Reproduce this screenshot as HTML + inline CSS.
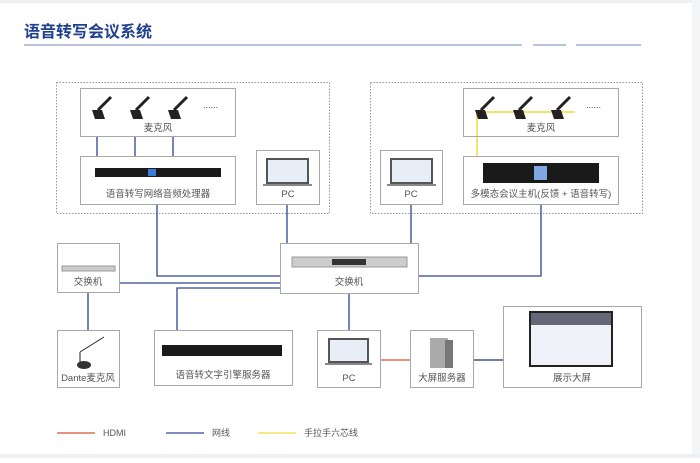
<!DOCTYPE html>
<html><head><meta charset="utf-8"><style>
body{margin:0;background:#fff;}
svg text{font-family:"Liberation Sans","Noto Sans CJK SC",sans-serif;}
</style></head><body>
<svg width="700" height="458" xmlns="http://www.w3.org/2000/svg">
<rect width="700" height="458" fill="#fff"/>
<rect x="0" y="0" width="700" height="3" fill="#eef0f3"/>
<rect x="692" y="0" width="8" height="458" fill="#f4f5f7"/>
<rect x="0" y="454" width="700" height="4" fill="#eef0f3"/>
<text x="24" y="37" font-size="16" font-weight="bold" fill="#1f3f8f">语音转写会议系统</text>
<g stroke="#8fa0c8" stroke-width="1.2"><line x1="24" y1="45" x2="522" y2="45"/><line x1="533" y1="45" x2="566" y2="45"/><line x1="576" y1="45" x2="641" y2="45"/></g>
<g fill="none" stroke="#999" stroke-dasharray="1.5,1.5"><rect x="56.5" y="82.5" width="273" height="131"/><rect x="370.5" y="82.5" width="272" height="131"/></g>
<g fill="none" stroke="#2d4495" stroke-width="1.3">
<line x1="97" y1="136" x2="97" y2="156"/><line x1="135" y1="136" x2="135" y2="156"/><line x1="173" y1="136" x2="173" y2="156"/>
<polyline points="157,204 157,276 280,276"/>
<line x1="287" y1="204" x2="287" y2="243"/>
<line x1="411" y1="204" x2="411" y2="243"/>
<polyline points="541,204 541,276 419,276"/>
<line x1="120" y1="283" x2="280" y2="283"/>
<polyline points="177,330 177,288 280,288"/>
<line x1="349" y1="293" x2="349" y2="330"/>
<line x1="88" y1="292" x2="88" y2="330"/>
<line x1="473" y1="360" x2="503" y2="360" stroke="#1f2f60"/>
</g>
<line x1="380" y1="360" x2="410" y2="360" stroke="#d9503a" stroke-width="1.3"/>
<line x1="477" y1="136" x2="477" y2="156" stroke="#f2dc3c" stroke-width="1.5"/>
<g fill="#fff" stroke="#a8a8a8" stroke-width="1">
<rect x="80.5" y="88.5" width="155" height="48"/>
<rect x="80.5" y="156.5" width="155" height="48"/>
<rect x="256.5" y="150.5" width="63" height="54"/>
<rect x="380.5" y="150.5" width="62" height="54"/>
<rect x="463.5" y="88.5" width="155" height="48"/>
<rect x="463.5" y="156.5" width="155" height="48"/>
<rect x="280.5" y="243.5" width="138" height="50"/>
<rect x="57.5" y="243.5" width="62" height="49"/>
<rect x="57.5" y="330.5" width="62" height="57"/>
<rect x="154.5" y="330.5" width="138" height="55"/>
<rect x="317.5" y="330.5" width="63" height="57"/>
<rect x="410.5" y="330.5" width="63" height="57"/>
<rect x="503.5" y="306.5" width="138" height="81"/>
</g>
<g stroke="#f2dc3c" stroke-width="1.5" fill="none"><polyline points="477,136 477,112 575,112"/></g>
<g fill="#222">
<g id="m"><polygon points="92,110 102,110 105,119 95,119"/><line x1="98" y1="110" x2="111" y2="97" stroke="#222" stroke-width="3"/></g>
<use href="#m" x="38"/><use href="#m" x="76"/>
<use href="#m" x="383"/><use href="#m" x="421"/><use href="#m" x="459"/>
</g>
<text x="203" y="108" font-size="9" fill="#444">......</text>
<text x="586" y="108" font-size="9" fill="#444">......</text>
<g font-size="9.5" fill="#555" text-anchor="middle">
<text x="158" y="131">麦克风</text>
<text x="541" y="131">麦克风</text>
<text x="158" y="197">语音转写网络音频处理器</text>
<text x="288" y="197">PC</text>
<text x="411" y="197">PC</text>
<text x="541" y="197">多模态会议主机(反馈 + 语音转写)</text>
<text x="349" y="285">交换机</text>
<text x="88" y="285">交换机</text>
<text x="88" y="381">Dante麦克风</text>
<text x="223" y="378">语音转文字引擎服务器</text>
<text x="349" y="381">PC</text>
<text x="442" y="381">大屏服务器</text>
<text x="572" y="381">展示大屏</text>
</g>
<rect x="95" y="168" width="126" height="9" fill="#1a1a1a"/><rect x="148" y="169" width="8" height="7" fill="#3a7bd5"/>
<rect x="483" y="163" width="116" height="20" fill="#1a1a1a"/><rect x="534" y="166" width="13" height="14" fill="#7fa8e0"/>
<g><rect x="266" y="158" width="43" height="26" fill="#555"/><rect x="268" y="160" width="39" height="22" fill="#e8eef8"/><rect x="263" y="184" width="49" height="2" fill="#888"/></g>
<g><rect x="390" y="158" width="43" height="26" fill="#555"/><rect x="392" y="160" width="39" height="22" fill="#e8eef8"/><rect x="387" y="184" width="49" height="2" fill="#888"/></g>
<g><rect x="328" y="338" width="41" height="25" fill="#555"/><rect x="330" y="340" width="37" height="21" fill="#e8eef8"/><rect x="325" y="363" width="47" height="2" fill="#888"/></g>
<rect x="292" y="257" width="115" height="10" fill="#ccc" stroke="#999"/><rect x="332" y="259" width="34" height="6" fill="#333"/>
<rect x="62" y="266" width="53" height="5" fill="#ccc" stroke="#999"/>
<rect x="162" y="345" width="120" height="11" fill="#1a1a1a"/>
<rect x="430" y="338" width="18" height="30" fill="#aaa"/><rect x="445" y="340" width="8" height="28" fill="#777"/>
<rect x="529" y="311" width="84" height="56" fill="#222"/><rect x="531" y="313" width="80" height="52" fill="#eef2f8"/><rect x="531" y="313" width="80" height="12" fill="#667"/>
<line x1="80" y1="364" x2="80" y2="352" stroke="#222" stroke-width="1"/><line x1="80" y1="352" x2="104" y2="337" stroke="#222" stroke-width="1"/><ellipse cx="84" cy="365" rx="7" ry="4" fill="#333"/>
<line x1="57" y1="433" x2="95" y2="433" stroke="#d9503a" stroke-width="1.3"/>
<line x1="166" y1="433" x2="204" y2="433" stroke="#2d4495" stroke-width="1.3"/>
<line x1="258" y1="433" x2="296" y2="433" stroke="#f2dc3c" stroke-width="1.3"/>
<g font-size="9" fill="#555"><text x="103" y="436">HDMI</text><text x="212" y="436">网线</text><text x="304" y="436">手拉手六芯线</text></g>
</svg>
</body></html>
